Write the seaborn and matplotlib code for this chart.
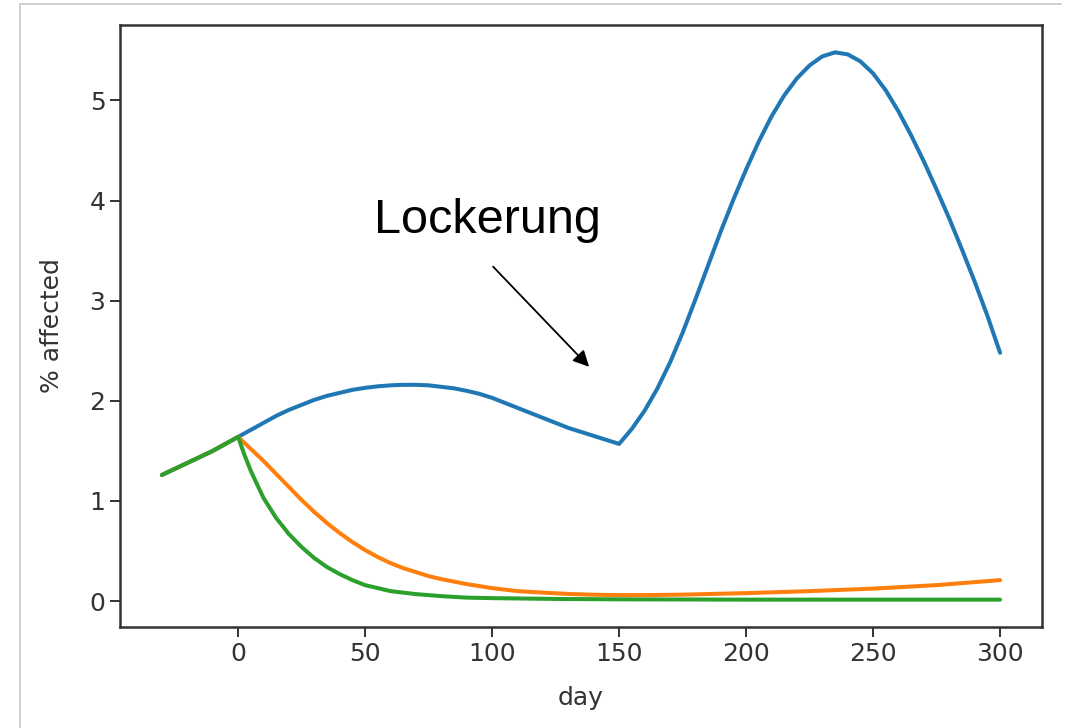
import numpy as np
import pandas as pd
import matplotlib
matplotlib.use("Agg")
import matplotlib.pyplot as plt
from matplotlib.lines import Line2D
import seaborn as sns

# =====================================
# DATA
# =====================================

days_blue = [-30, -25, -20, -15, -10, -5, 0,
             5, 10, 15, 20, 25, 30, 35, 40, 45, 50, 55, 60, 65, 70, 75,
             80, 85, 90, 95, 100, 105, 110, 115, 120, 125, 130, 135, 140, 145, 150,
             155, 160, 165, 170, 175, 180, 185, 190, 195, 200, 205, 210, 215,
             220, 225, 230, 235, 240, 245, 250, 255, 260, 265, 270, 275, 280,
             285, 290, 295, 300]
blue = [1.26, 1.32, 1.38, 1.44, 1.50, 1.57, 1.64,
        1.71, 1.78, 1.85, 1.91, 1.96, 2.01, 2.05, 2.08, 2.11, 2.13, 2.145, 2.155, 2.16, 2.16, 2.155,
        2.14, 2.125, 2.10, 2.07, 2.03, 1.98, 1.93, 1.88, 1.83, 1.78, 1.73, 1.69, 1.65, 1.61, 1.57,
        1.72, 1.90, 2.12, 2.38, 2.68, 3.01, 3.35, 3.69, 4.01, 4.31, 4.59, 4.84, 5.05,
        5.22, 5.35, 5.44, 5.48, 5.46, 5.39, 5.27, 5.10, 4.89, 4.65, 4.39, 4.11, 3.82,
        3.51, 3.19, 2.85, 2.48]

days_orange = [-30, -20, -10, 0, 5, 10, 15, 20, 25, 30, 35, 40, 45, 50, 55, 60, 65, 70,
               75, 80, 90, 100, 110, 120, 130, 140, 150, 160, 175, 200, 225, 250, 275, 300]
orange = [1.26, 1.38, 1.50, 1.64, 1.52, 1.40, 1.27, 1.14, 1.01, 0.89, 0.78, 0.68, 0.59, 0.51,
          0.44, 0.38, 0.33, 0.29, 0.25, 0.22, 0.17, 0.13, 0.10, 0.085, 0.072, 0.064, 0.06,
          0.06, 0.065, 0.08, 0.10, 0.125, 0.16, 0.21]

days_green = [-30, -20, -10, 0, 2.5, 5, 10, 15, 20, 25, 30, 35, 40, 45, 50, 55, 60, 70, 80,
              90, 100, 125, 150, 200, 250, 300]
green = [1.26, 1.38, 1.50, 1.64, 1.46, 1.30, 1.03, 0.83, 0.67, 0.54, 0.43, 0.34, 0.27, 0.21,
         0.16, 0.13, 0.10, 0.07, 0.05, 0.035, 0.03, 0.022, 0.018, 0.015, 0.015, 0.015]

y_ticks = [0, 1, 2, 3, 4, 5]
x_ticks = [0, 50, 100, 150, 200, 250, 300]

# =====================================
# STYLE
# =====================================

sns.set_theme(style="ticks")
plt.rcParams["font.family"] = ["DejaVu Sans"]

colors = sns.color_palette("tab10")

fig, ax = plt.subplots(figsize=(10.68, 7.28), dpi=100)
fig.subplots_adjust(left=120 / 1068, right=1042 / 1068,
                    top=1 - 25 / 728, bottom=1 - 627 / 728)

# =====================================
# LINES
# =====================================

series = [
    (days_blue, blue, colors[0]),
    (days_orange, orange, colors[1]),
    (days_green, green, colors[2]),
]

for d, v, c in series:
    df = pd.DataFrame({"day": d, "value": v})
    sns.lineplot(data=df, x="day", y="value", color=c, linewidth=2.9, ax=ax)

ax.set_xticks(x_ticks)
ax.set_yticks(y_ticks)
ax.set_xlabel("day", fontsize=18, color="#333333", labelpad=15)
ax.set_ylabel("% affected", fontsize=18, color="#333333", labelpad=18)
ax.tick_params(labelsize=18, length=7, width=1.4, colors="#333333")

for s in ax.spines.values():
    s.set_visible(True)
    s.set_linewidth(1.8)
    s.set_color("#333333")

# =====================================
# ANNOTATION
# =====================================

ax.text(53.5, 3.68, "Lockerung", fontsize=35, family=["Liberation Sans"],
        ha="left", va="baseline", color="black")

ax.annotate("", xy=(138.2, 2.34), xytext=(100.4, 3.34),
            arrowprops=dict(arrowstyle="-|>", color="black", lw=1.3,
                            mutation_scale=24, shrinkA=0, shrinkB=0))

# screenshot frame
fig.add_artist(Line2D([20 / 1068, 1061 / 1068], [1 - 4 / 728, 1 - 4 / 728],
                      color="#c8c8c8", lw=1.2, transform=fig.transFigure))
fig.add_artist(Line2D([20 / 1068, 20 / 1068], [0, 1 - 4 / 728],
                      color="#c8c8c8", lw=1.2, transform=fig.transFigure))

fig.savefig("out.png", dpi=100)
